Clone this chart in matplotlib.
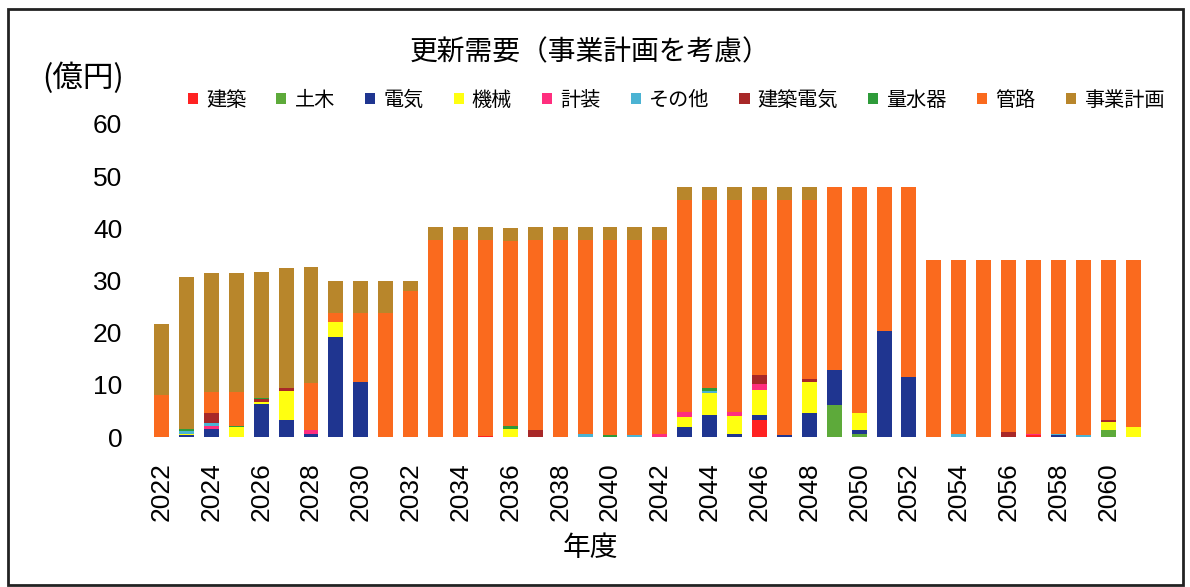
import matplotlib
matplotlib.use("Agg")
import matplotlib.pyplot as plt
import numpy as np
from matplotlib.patches import Rectangle

plt.rcParams['font.family'] = ['Noto Sans CJK JP', 'DejaVu Sans']

years = list(range(2022, 2062))

categories = ["建築", "土木", "電気", "機械", "計装", "その他", "建築電気", "量水器", "管路", "事業計画"]
colors = ["#FF2222", "#5DAA3A", "#1F3590", "#FFFF10", "#FF2E7E", "#4BB3D3",
          "#A82828", "#2E9B3A", "#FA6A1E", "#B8862B"]

# values in 億円, 2022..2061
kenchiku = [0, 0, 0, 0, 0, 0, 0, 0, 0, 0,
            0, 0, 0, 0.2, 0, 0, 0, 0, 0, 0,
            0, 0, 0, 0, 3.2, 0, 0, 0, 0, 0,
            0, 0, 0, 0, 0, 0.3, 0, 0, 0, 0]
doboku = [0, 0, 0, 0, 0, 0, 0, 0, 0, 0,
          0, 0, 0, 0, 0, 0, 0, 0, 0, 0,
          0, 0, 0, 0, 0, 0, 0, 6.1, 0.6, 0,
          0, 0, 0, 0, 0, 0, 0, 0, 1.3, 0]
denki = [0, 0.4, 1.6, 0, 6.4, 3.2, 0.6, 19.2, 10.5, 0,
         0, 0, 0, 0, 0, 0, 0, 0, 0, 0,
         0, 1.9, 4.2, 0.5, 1.0, 0.45, 4.6, 6.7, 0.8, 20.4,
         11.5, 0, 0, 0, 0, 0, 0.3, 0, 0, 0]
kikai = [0, 0.2, 0, 1.9, 0.3, 5.7, 0, 2.9, 0, 0,
         0, 0, 0, 0, 1.6, 0, 0, 0, 0, 0,
         0, 2.0, 4.3, 3.5, 4.8, 0, 5.9, 0, 3.2, 0,
         0, 0, 0, 0, 0, 0, 0, 0, 1.6, 1.9]
keiso = [0, 0, 0.45, 0, 0, 0, 0.7, 0, 0, 0,
         0, 0, 0, 0, 0, 0, 0, 0, 0, 0,
         0.5, 0.8, 0, 0.8, 1.2, 0, 0, 0, 0, 0,
         0, 0, 0, 0, 0, 0.3, 0, 0, 0, 0]
sonota = [0, 0.5, 0.6, 0, 0, 0, 0, 0, 0, 0,
          0, 0, 0, 0, 0, 0, 0, 0.6, 0, 0.3,
          0, 0, 0.3, 0, 0, 0, 0, 0, 0, 0,
          0, 0, 0.5, 0, 0, 0, 0.3, 0.3, 0, 0]
kenchiku_denki = [0, 0, 1.9, 0, 0.5, 0.4, 0, 0, 0, 0,
                  0, 0, 0, 0, 0, 1.4, 0, 0, 0, 0,
                  0, 0, 0, 0, 1.7, 0, 0.6, 0, 0, 0,
                  0, 0, 0, 0, 0.9, 0, 0, 0, 0.4, 0]
ryosuiki = [0, 0.5, 0, 0.3, 0.3, 0, 0, 0, 0, 0,
            0, 0, 0, 0, 0.45, 0, 0, 0, 0.3, 0,
            0, 0, 0.5, 0, 0, 0, 0, 0, 0, 0,
            0, 0, 0, 0, 0, 0, 0, 0, 0, 0]
kanro = [8.0, 0, 4.0, 6.5, 0, 0, 9.0, 1.6, 13.2, 23.7,
         27.9, 37.7, 37.7, 37.5, 35.6, 36.3, 37.7, 37.1, 37.4, 37.4,
         37.2, 40.8, 36.2, 40.7, 33.6, 45.0, 34.4, 35.2, 43.4, 27.6,
         36.5, 33.9, 33.4, 33.9, 33.0, 33.3, 33.3, 33.6, 30.6, 32.0]
jigyo = [13.6, 29.0, 22.8, 22.7, 24.2, 23.0, 22.3, 6.2, 6.2, 6.2,
         2.0, 2.5, 2.5, 2.5, 2.5, 2.5, 2.5, 2.5, 2.5, 2.5,
         2.5, 2.5, 2.5, 2.5, 2.5, 2.5, 2.5, 0, 0, 0,
         0, 0, 0, 0, 0, 0, 0, 0, 0, 0]

series = [kenchiku, doboku, denki, kikai, keiso, sonota, kenchiku_denki, ryosuiki, kanro, jigyo]

fig = plt.figure(figsize=(11.9, 5.87), dpi=100)
ax = fig.add_axes([0.119, 0.2555, 0.850, 0.5333])

x = np.arange(len(years))
bottom = np.zeros(len(years))
handles = []
for name, vals, c in zip(categories, series, colors):
    vals = np.array(vals, dtype=float)
    b = ax.bar(x, vals, 0.6, bottom=bottom, color=c, label=name, linewidth=0)
    handles.append(b)
    bottom += vals

ax.set_xlim(-0.8, len(years) - 0.2)
ax.set_ylim(0, 60)
ax.set_yticks(range(0, 61, 10))
ax.set_xticks(x[::2])
ax.set_xticklabels([str(y) for y in years[::2]], rotation=90,
                   fontsize=19, family=['Liberation Sans', 'DejaVu Sans'])
for t in ax.get_yticklabels():
    t.set_fontsize(19)
    t.set_family(['Liberation Sans', 'DejaVu Sans'])
ax.tick_params(axis='y', length=0, pad=14)
ax.tick_params(axis='x', length=0, pad=18)
for s in ax.spines.values():
    s.set_visible(False)

fig.text(0.496, 0.911, "更新需要（事業計画を考慮）", ha='center', va='center', fontsize=20)
fig.text(0.07, 0.867, "(億円)", ha='center', va='center', fontsize=22)
fig.text(0.496, 0.066, "年度", ha='center', va='center', fontsize=20)

fig.legend(handles=handles, labels=categories, loc='center',
           bbox_to_anchor=(676 / 1190, 1 - 100 / 587), ncol=10, frameon=False,
           fontsize=14.5, handlelength=0.5, handleheight=0.5,
           handletextpad=0.4, columnspacing=1.5, borderpad=0)

fig.patches.append(Rectangle((8 / 1190, 2 / 587), 1175 / 1190, 576 / 587,
                             transform=fig.transFigure, fill=False,
                             edgecolor='#222222', linewidth=2))

fig.savefig("out.png", dpi=100)
